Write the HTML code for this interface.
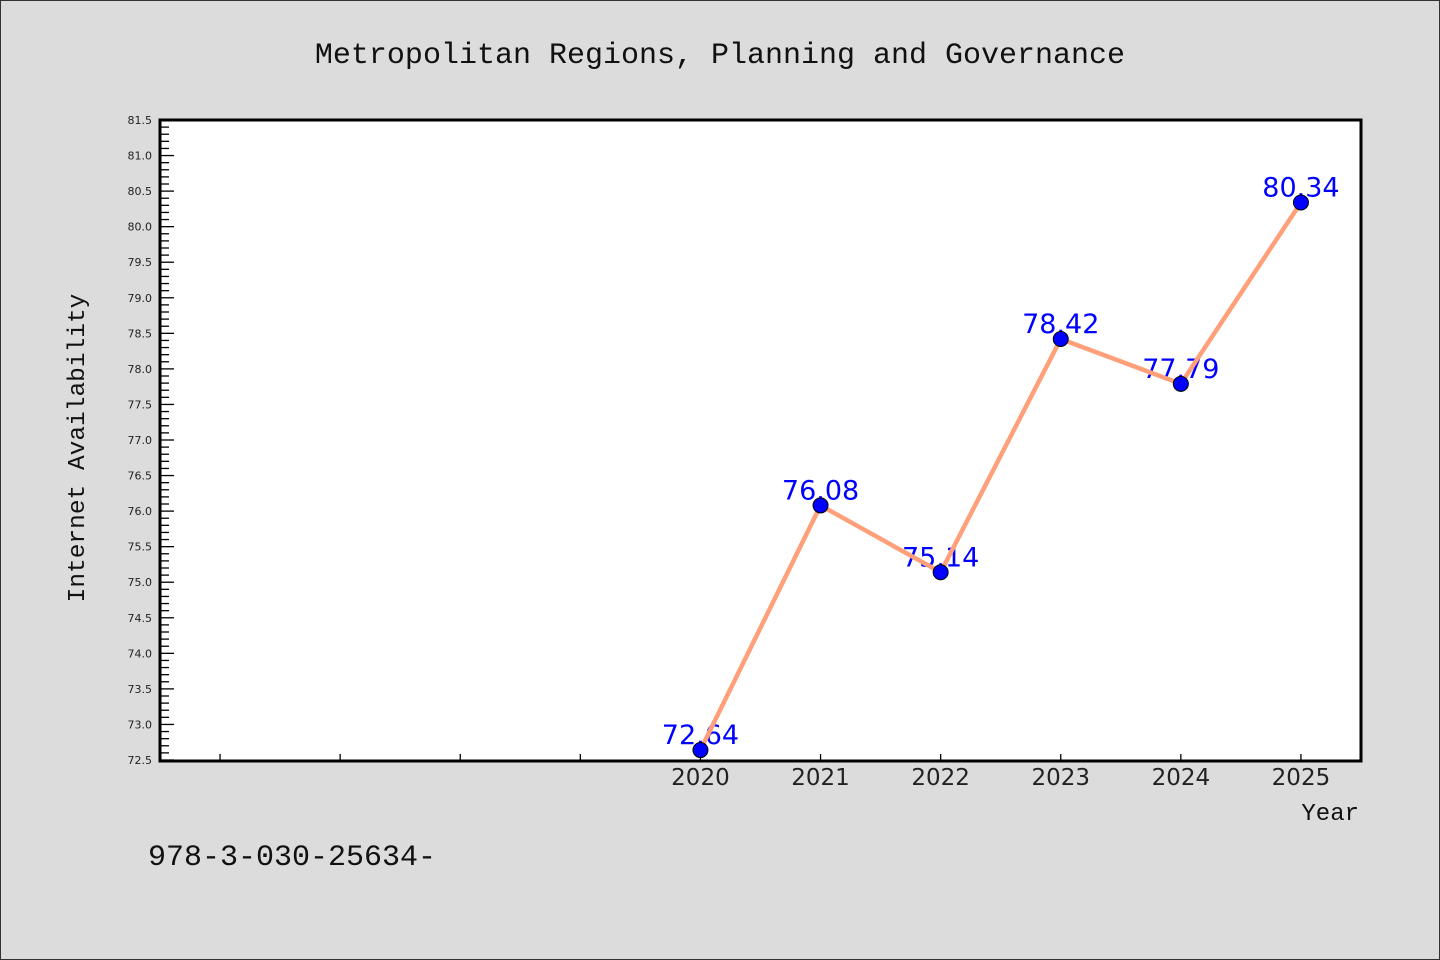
<!DOCTYPE html>
<html><head><meta charset="utf-8"><style>
html,body{margin:0;padding:0;background:#dcdcdc;}
svg{display:block;}
</style></head><body>
<svg width="1440" height="960" viewBox="0 0 1440 960" id="chart">
<rect x="0.5" y="0.5" width="1439" height="959" fill="#dcdcdc" stroke="#333"/>
<rect x="160" y="120" width="1201" height="641" fill="#fff"/>
<text x="720" y="63" text-anchor="middle" font-family="Liberation Mono, monospace" font-size="30" fill="#111">Metropolitan Regions, Planning and Governance</text>
<text transform="translate(84,448) rotate(-90)" text-anchor="middle" font-family="Liberation Mono, monospace" font-size="24.5" fill="#111">Internet Availability</text>
<text x="1359" y="820" text-anchor="end" font-family="Liberation Mono, monospace" font-size="24" fill="#111">Year</text>
<text x="148" y="865" font-family="Liberation Mono, monospace" font-size="30" fill="#111">978-3-030-25634-</text>
<g id="axes"></g>
<g id="labels"></g>
<g id="series"></g>
<rect x="160" y="120" width="1201" height="641" fill="none" stroke="#000" stroke-width="3"/>
</svg>
<script>
const years = [2020, 2021, 2022, 2023, 2024, 2025];
const values = [72.64, 76.08, 75.14, 78.42, 77.79, 80.34];
const valueLabels = ["72.64", "76.08", "75.14", "78.42", "77.79", "80.34"];
const yTickLabels = ["72.5","73.0","73.5","74.0","74.5","75.0","75.5","76.0","76.5","77.0","77.5","78.0","78.5","79.0","79.5","80.0","80.5","81.0","81.5"];
const xMinorYears = [2016, 2017, 2018, 2019];

const NS = "http://www.w3.org/2000/svg";
const X0 = 160, X1 = 1361, Y0 = 760, Y1 = 120;
const xMin = 2015.5, xMax = 2025.5, yMin = 72.5, yMax = 81.5;
function xs(v){ return X0 + (v - xMin) / (xMax - xMin) * (X1 - X0); }
function ys(v){ return Y0 - (v - yMin) / (yMax - yMin) * (Y0 - Y1); }
function mk(tag, attrs, parent){ const e = document.createElementNS(NS, tag); for (const k in attrs) e.setAttribute(k, attrs[k]); parent.appendChild(e); return e; }

const axes = document.getElementById('axes');
// y minor ticks
for (let i = 0; i <= 90; i++) {
  const v = yMin + i * 0.1;
  const y = ys(v);
  const major = i % 5 === 0;
  const t = mk('line', {x1: X0, x2: X0 + (major ? 14 : 9), y1: y, y2: y, stroke: '#000', 'stroke-width': 1.3}, axes);
  
  
}
yTickLabels.forEach(lbl => {
  const t = mk('text', {x: 152, y: ys(parseFloat(lbl)) + 4, 'text-anchor': 'end', 'font-family': 'DejaVu Sans, sans-serif', 'font-size': 11, fill: '#222'}, axes);
  t.textContent = lbl;
  
  
});
xMinorYears.concat(years).forEach(yr => {
  const t = mk('line', {x1: xs(yr), x2: xs(yr), y1: Y0, y2: Y0 - 6, stroke: '#000', 'stroke-width': 1.3}, axes);
  
  
});
years.forEach(yr => {
  const t = mk('text', {x: xs(yr), y: 785, 'text-anchor': 'middle', 'font-family': 'DejaVu Sans, sans-serif', 'font-size': 23, fill: '#222'}, axes);
  t.textContent = String(yr);
  
  
});

const labels = document.getElementById('labels');
values.forEach((v, i) => {
  const t = mk('text', {x: xs(years[i]), y: ys(v) - 6, 'text-anchor': 'middle', 'font-family': 'DejaVu Sans, sans-serif', 'font-size': 27, fill: '#0000ff'}, labels);
  t.textContent = valueLabels[i];
  
  
});

const series = document.getElementById('series');
const pl = mk('polyline', {points: values.map((v, i) => xs(years[i]) + ',' + ys(v)).join(' '), fill: 'none', stroke: '#ffa07a', 'stroke-width': 4.5, 'stroke-linejoin': 'round'}, series);


values.forEach((v, i) => {
  const c = mk('circle', {cx: xs(years[i]), cy: ys(v), r: 7.5, fill: '#0000ff', stroke: '#000', 'stroke-width': 1}, series);
  
  
});
</script>
</body></html>
